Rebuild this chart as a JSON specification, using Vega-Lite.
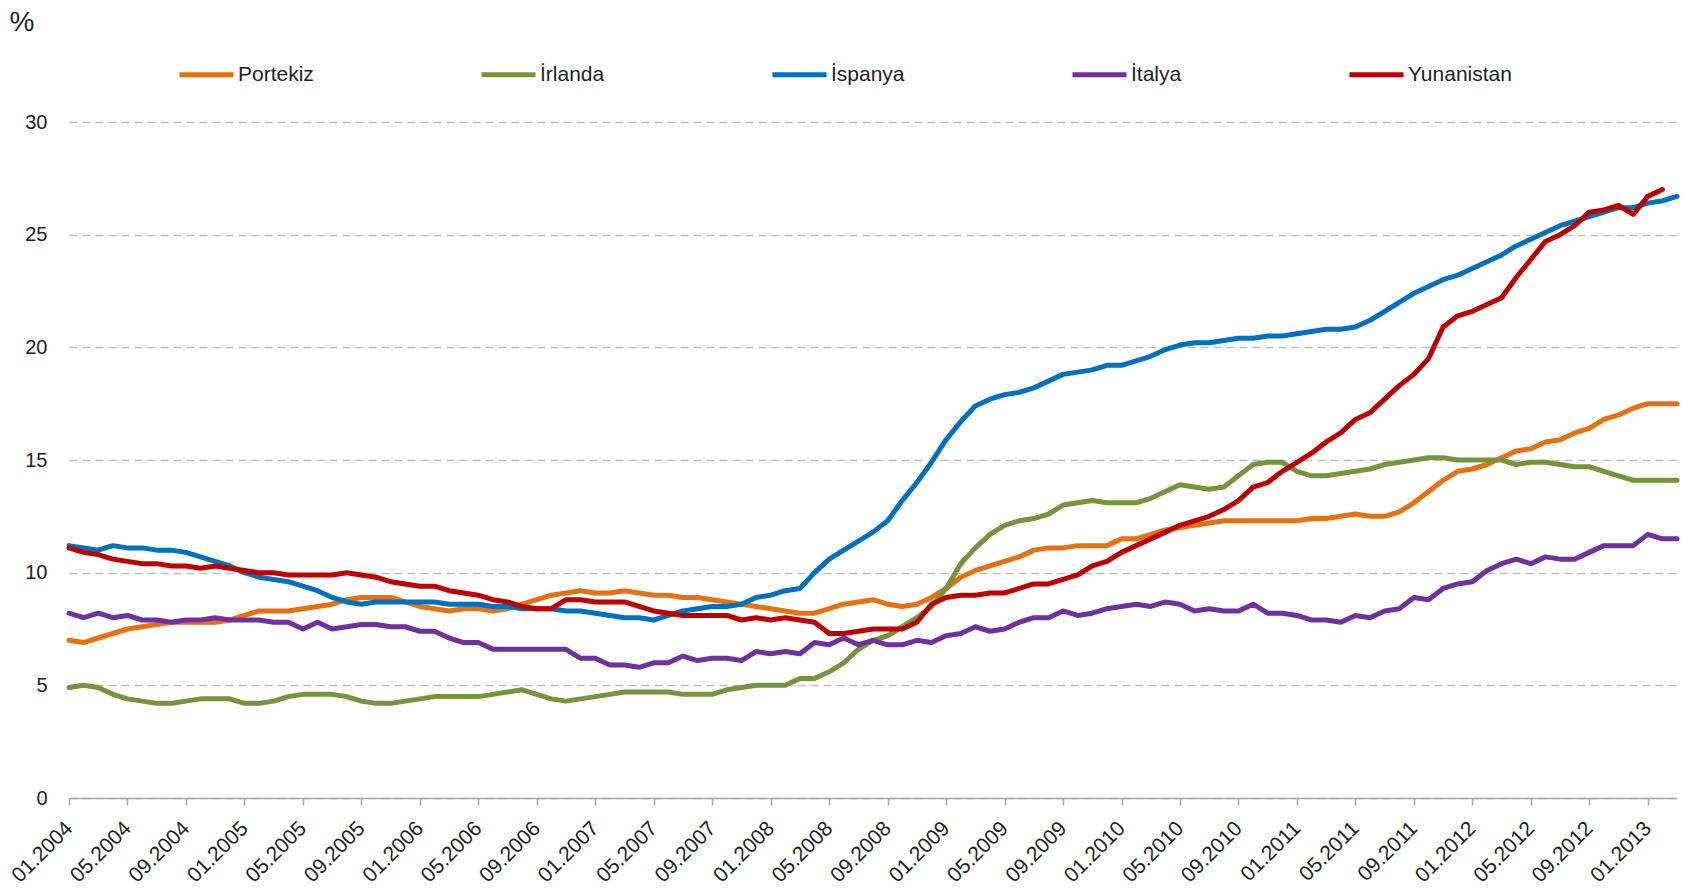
{
"$schema": "https://vega.github.io/schema/vega-lite/v6.json",
"width": 1608, "height": 676,
"autosize": {"type": "none"},
"padding": {"left": 69, "top": 122, "right": 13, "bottom": 92},
"background": "white",
"config": {"view": {"stroke": null}, "font": "Liberation Sans"},
"data": {"values": [
{"m":"01.2004","Portekiz":7.0,"İrlanda":4.9,"İspanya":11.2,"İtalya":8.2,"Yunanistan":11.1},
{"m":"02.2004","Portekiz":6.9,"İrlanda":5.0,"İspanya":11.1,"İtalya":8.0,"Yunanistan":10.9},
{"m":"03.2004","Portekiz":7.1,"İrlanda":4.9,"İspanya":11.0,"İtalya":8.2,"Yunanistan":10.8},
{"m":"04.2004","Portekiz":7.3,"İrlanda":4.6,"İspanya":11.2,"İtalya":8.0,"Yunanistan":10.6},
{"m":"05.2004","Portekiz":7.5,"İrlanda":4.4,"İspanya":11.1,"İtalya":8.1,"Yunanistan":10.5},
{"m":"06.2004","Portekiz":7.6,"İrlanda":4.3,"İspanya":11.1,"İtalya":7.9,"Yunanistan":10.4},
{"m":"07.2004","Portekiz":7.7,"İrlanda":4.2,"İspanya":11.0,"İtalya":7.9,"Yunanistan":10.4},
{"m":"08.2004","Portekiz":7.8,"İrlanda":4.2,"İspanya":11.0,"İtalya":7.8,"Yunanistan":10.3},
{"m":"09.2004","Portekiz":7.8,"İrlanda":4.3,"İspanya":10.9,"İtalya":7.9,"Yunanistan":10.3},
{"m":"10.2004","Portekiz":7.8,"İrlanda":4.4,"İspanya":10.7,"İtalya":7.9,"Yunanistan":10.2},
{"m":"11.2004","Portekiz":7.8,"İrlanda":4.4,"İspanya":10.5,"İtalya":8.0,"Yunanistan":10.3},
{"m":"12.2004","Portekiz":7.9,"İrlanda":4.4,"İspanya":10.3,"İtalya":7.9,"Yunanistan":10.2},
{"m":"01.2005","Portekiz":8.1,"İrlanda":4.2,"İspanya":10.0,"İtalya":7.9,"Yunanistan":10.1},
{"m":"02.2005","Portekiz":8.3,"İrlanda":4.2,"İspanya":9.8,"İtalya":7.9,"Yunanistan":10.0},
{"m":"03.2005","Portekiz":8.3,"İrlanda":4.3,"İspanya":9.7,"İtalya":7.8,"Yunanistan":10.0},
{"m":"04.2005","Portekiz":8.3,"İrlanda":4.5,"İspanya":9.6,"İtalya":7.8,"Yunanistan":9.9},
{"m":"05.2005","Portekiz":8.4,"İrlanda":4.6,"İspanya":9.4,"İtalya":7.5,"Yunanistan":9.9},
{"m":"06.2005","Portekiz":8.5,"İrlanda":4.6,"İspanya":9.2,"İtalya":7.8,"Yunanistan":9.9},
{"m":"07.2005","Portekiz":8.6,"İrlanda":4.6,"İspanya":8.9,"İtalya":7.5,"Yunanistan":9.9},
{"m":"08.2005","Portekiz":8.8,"İrlanda":4.5,"İspanya":8.7,"İtalya":7.6,"Yunanistan":10.0},
{"m":"09.2005","Portekiz":8.9,"İrlanda":4.3,"İspanya":8.6,"İtalya":7.7,"Yunanistan":9.9},
{"m":"10.2005","Portekiz":8.9,"İrlanda":4.2,"İspanya":8.7,"İtalya":7.7,"Yunanistan":9.8},
{"m":"11.2005","Portekiz":8.9,"İrlanda":4.2,"İspanya":8.7,"İtalya":7.6,"Yunanistan":9.6},
{"m":"12.2005","Portekiz":8.7,"İrlanda":4.3,"İspanya":8.7,"İtalya":7.6,"Yunanistan":9.5},
{"m":"01.2006","Portekiz":8.5,"İrlanda":4.4,"İspanya":8.7,"İtalya":7.4,"Yunanistan":9.4},
{"m":"02.2006","Portekiz":8.4,"İrlanda":4.5,"İspanya":8.7,"İtalya":7.4,"Yunanistan":9.4},
{"m":"03.2006","Portekiz":8.3,"İrlanda":4.5,"İspanya":8.6,"İtalya":7.1,"Yunanistan":9.2},
{"m":"04.2006","Portekiz":8.4,"İrlanda":4.5,"İspanya":8.6,"İtalya":6.9,"Yunanistan":9.1},
{"m":"05.2006","Portekiz":8.4,"İrlanda":4.5,"İspanya":8.6,"İtalya":6.9,"Yunanistan":9.0},
{"m":"06.2006","Portekiz":8.3,"İrlanda":4.6,"İspanya":8.5,"İtalya":6.6,"Yunanistan":8.8},
{"m":"07.2006","Portekiz":8.4,"İrlanda":4.7,"İspanya":8.5,"İtalya":6.6,"Yunanistan":8.7},
{"m":"08.2006","Portekiz":8.6,"İrlanda":4.8,"İspanya":8.4,"İtalya":6.6,"Yunanistan":8.5},
{"m":"09.2006","Portekiz":8.8,"İrlanda":4.6,"İspanya":8.4,"İtalya":6.6,"Yunanistan":8.4},
{"m":"10.2006","Portekiz":9.0,"İrlanda":4.4,"İspanya":8.4,"İtalya":6.6,"Yunanistan":8.4},
{"m":"11.2006","Portekiz":9.1,"İrlanda":4.3,"İspanya":8.3,"İtalya":6.6,"Yunanistan":8.8},
{"m":"12.2006","Portekiz":9.2,"İrlanda":4.4,"İspanya":8.3,"İtalya":6.2,"Yunanistan":8.8},
{"m":"01.2007","Portekiz":9.1,"İrlanda":4.5,"İspanya":8.2,"İtalya":6.2,"Yunanistan":8.7},
{"m":"02.2007","Portekiz":9.1,"İrlanda":4.6,"İspanya":8.1,"İtalya":5.9,"Yunanistan":8.7},
{"m":"03.2007","Portekiz":9.2,"İrlanda":4.7,"İspanya":8.0,"İtalya":5.9,"Yunanistan":8.7},
{"m":"04.2007","Portekiz":9.1,"İrlanda":4.7,"İspanya":8.0,"İtalya":5.8,"Yunanistan":8.5},
{"m":"05.2007","Portekiz":9.0,"İrlanda":4.7,"İspanya":7.9,"İtalya":6.0,"Yunanistan":8.3},
{"m":"06.2007","Portekiz":9.0,"İrlanda":4.7,"İspanya":8.1,"İtalya":6.0,"Yunanistan":8.2},
{"m":"07.2007","Portekiz":8.9,"İrlanda":4.6,"İspanya":8.3,"İtalya":6.3,"Yunanistan":8.1},
{"m":"08.2007","Portekiz":8.9,"İrlanda":4.6,"İspanya":8.4,"İtalya":6.1,"Yunanistan":8.1},
{"m":"09.2007","Portekiz":8.8,"İrlanda":4.6,"İspanya":8.5,"İtalya":6.2,"Yunanistan":8.1},
{"m":"10.2007","Portekiz":8.7,"İrlanda":4.8,"İspanya":8.5,"İtalya":6.2,"Yunanistan":8.1},
{"m":"11.2007","Portekiz":8.6,"İrlanda":4.9,"İspanya":8.6,"İtalya":6.1,"Yunanistan":7.9},
{"m":"12.2007","Portekiz":8.5,"İrlanda":5.0,"İspanya":8.9,"İtalya":6.5,"Yunanistan":8.0},
{"m":"01.2008","Portekiz":8.4,"İrlanda":5.0,"İspanya":9.0,"İtalya":6.4,"Yunanistan":7.9},
{"m":"02.2008","Portekiz":8.3,"İrlanda":5.0,"İspanya":9.2,"İtalya":6.5,"Yunanistan":8.0},
{"m":"03.2008","Portekiz":8.2,"İrlanda":5.3,"İspanya":9.3,"İtalya":6.4,"Yunanistan":7.9},
{"m":"04.2008","Portekiz":8.2,"İrlanda":5.3,"İspanya":10.0,"İtalya":6.9,"Yunanistan":7.8},
{"m":"05.2008","Portekiz":8.4,"İrlanda":5.6,"İspanya":10.6,"İtalya":6.8,"Yunanistan":7.3},
{"m":"06.2008","Portekiz":8.6,"İrlanda":6.0,"İspanya":11.0,"İtalya":7.1,"Yunanistan":7.3},
{"m":"07.2008","Portekiz":8.7,"İrlanda":6.6,"İspanya":11.4,"İtalya":6.8,"Yunanistan":7.4},
{"m":"08.2008","Portekiz":8.8,"İrlanda":7.0,"İspanya":11.8,"İtalya":7.0,"Yunanistan":7.5},
{"m":"09.2008","Portekiz":8.6,"İrlanda":7.2,"İspanya":12.3,"İtalya":6.8,"Yunanistan":7.5},
{"m":"10.2008","Portekiz":8.5,"İrlanda":7.6,"İspanya":13.2,"İtalya":6.8,"Yunanistan":7.5},
{"m":"11.2008","Portekiz":8.6,"İrlanda":8.0,"İspanya":14.0,"İtalya":7.0,"Yunanistan":7.8},
{"m":"12.2008","Portekiz":8.9,"İrlanda":8.5,"İspanya":14.9,"İtalya":6.9,"Yunanistan":8.6},
{"m":"01.2009","Portekiz":9.3,"İrlanda":9.3,"İspanya":15.9,"İtalya":7.2,"Yunanistan":8.9},
{"m":"02.2009","Portekiz":9.8,"İrlanda":10.4,"İspanya":16.7,"İtalya":7.3,"Yunanistan":9.0},
{"m":"03.2009","Portekiz":10.1,"İrlanda":11.1,"İspanya":17.4,"İtalya":7.6,"Yunanistan":9.0},
{"m":"04.2009","Portekiz":10.3,"İrlanda":11.7,"İspanya":17.7,"İtalya":7.4,"Yunanistan":9.1},
{"m":"05.2009","Portekiz":10.5,"İrlanda":12.1,"İspanya":17.9,"İtalya":7.5,"Yunanistan":9.1},
{"m":"06.2009","Portekiz":10.7,"İrlanda":12.3,"İspanya":18.0,"İtalya":7.8,"Yunanistan":9.3},
{"m":"07.2009","Portekiz":11.0,"İrlanda":12.4,"İspanya":18.2,"İtalya":8.0,"Yunanistan":9.5},
{"m":"08.2009","Portekiz":11.1,"İrlanda":12.6,"İspanya":18.5,"İtalya":8.0,"Yunanistan":9.5},
{"m":"09.2009","Portekiz":11.1,"İrlanda":13.0,"İspanya":18.8,"İtalya":8.3,"Yunanistan":9.7},
{"m":"10.2009","Portekiz":11.2,"İrlanda":13.1,"İspanya":18.9,"İtalya":8.1,"Yunanistan":9.9},
{"m":"11.2009","Portekiz":11.2,"İrlanda":13.2,"İspanya":19.0,"İtalya":8.2,"Yunanistan":10.3},
{"m":"12.2009","Portekiz":11.2,"İrlanda":13.1,"İspanya":19.2,"İtalya":8.4,"Yunanistan":10.5},
{"m":"01.2010","Portekiz":11.5,"İrlanda":13.1,"İspanya":19.2,"İtalya":8.5,"Yunanistan":10.9},
{"m":"02.2010","Portekiz":11.5,"İrlanda":13.1,"İspanya":19.4,"İtalya":8.6,"Yunanistan":11.2},
{"m":"03.2010","Portekiz":11.7,"İrlanda":13.3,"İspanya":19.6,"İtalya":8.5,"Yunanistan":11.5},
{"m":"04.2010","Portekiz":11.9,"İrlanda":13.6,"İspanya":19.9,"İtalya":8.7,"Yunanistan":11.8},
{"m":"05.2010","Portekiz":12.0,"İrlanda":13.9,"İspanya":20.1,"İtalya":8.6,"Yunanistan":12.1},
{"m":"06.2010","Portekiz":12.1,"İrlanda":13.8,"İspanya":20.2,"İtalya":8.3,"Yunanistan":12.3},
{"m":"07.2010","Portekiz":12.2,"İrlanda":13.7,"İspanya":20.2,"İtalya":8.4,"Yunanistan":12.5},
{"m":"08.2010","Portekiz":12.3,"İrlanda":13.8,"İspanya":20.3,"İtalya":8.3,"Yunanistan":12.8},
{"m":"09.2010","Portekiz":12.3,"İrlanda":14.3,"İspanya":20.4,"İtalya":8.3,"Yunanistan":13.2},
{"m":"10.2010","Portekiz":12.3,"İrlanda":14.8,"İspanya":20.4,"İtalya":8.6,"Yunanistan":13.8},
{"m":"11.2010","Portekiz":12.3,"İrlanda":14.9,"İspanya":20.5,"İtalya":8.2,"Yunanistan":14.0},
{"m":"12.2010","Portekiz":12.3,"İrlanda":14.9,"İspanya":20.5,"İtalya":8.2,"Yunanistan":14.5},
{"m":"01.2011","Portekiz":12.3,"İrlanda":14.5,"İspanya":20.6,"İtalya":8.1,"Yunanistan":14.9},
{"m":"02.2011","Portekiz":12.4,"İrlanda":14.3,"İspanya":20.7,"İtalya":7.9,"Yunanistan":15.3},
{"m":"03.2011","Portekiz":12.4,"İrlanda":14.3,"İspanya":20.8,"İtalya":7.9,"Yunanistan":15.8},
{"m":"04.2011","Portekiz":12.5,"İrlanda":14.4,"İspanya":20.8,"İtalya":7.8,"Yunanistan":16.2},
{"m":"05.2011","Portekiz":12.6,"İrlanda":14.5,"İspanya":20.9,"İtalya":8.1,"Yunanistan":16.8},
{"m":"06.2011","Portekiz":12.5,"İrlanda":14.6,"İspanya":21.2,"İtalya":8.0,"Yunanistan":17.1},
{"m":"07.2011","Portekiz":12.5,"İrlanda":14.8,"İspanya":21.6,"İtalya":8.3,"Yunanistan":17.7},
{"m":"08.2011","Portekiz":12.7,"İrlanda":14.9,"İspanya":22.0,"İtalya":8.4,"Yunanistan":18.3},
{"m":"09.2011","Portekiz":13.1,"İrlanda":15.0,"İspanya":22.4,"İtalya":8.9,"Yunanistan":18.8},
{"m":"10.2011","Portekiz":13.6,"İrlanda":15.1,"İspanya":22.7,"İtalya":8.8,"Yunanistan":19.5},
{"m":"11.2011","Portekiz":14.1,"İrlanda":15.1,"İspanya":23.0,"İtalya":9.3,"Yunanistan":20.9},
{"m":"12.2011","Portekiz":14.5,"İrlanda":15.0,"İspanya":23.2,"İtalya":9.5,"Yunanistan":21.4},
{"m":"01.2012","Portekiz":14.6,"İrlanda":15.0,"İspanya":23.5,"İtalya":9.6,"Yunanistan":21.6},
{"m":"02.2012","Portekiz":14.8,"İrlanda":15.0,"İspanya":23.8,"İtalya":10.1,"Yunanistan":21.9},
{"m":"03.2012","Portekiz":15.1,"İrlanda":15.0,"İspanya":24.1,"İtalya":10.4,"Yunanistan":22.2},
{"m":"04.2012","Portekiz":15.4,"İrlanda":14.8,"İspanya":24.5,"İtalya":10.6,"Yunanistan":23.1},
{"m":"05.2012","Portekiz":15.5,"İrlanda":14.9,"İspanya":24.8,"İtalya":10.4,"Yunanistan":23.9},
{"m":"06.2012","Portekiz":15.8,"İrlanda":14.9,"İspanya":25.1,"İtalya":10.7,"Yunanistan":24.7},
{"m":"07.2012","Portekiz":15.9,"İrlanda":14.8,"İspanya":25.4,"İtalya":10.6,"Yunanistan":25.0},
{"m":"08.2012","Portekiz":16.2,"İrlanda":14.7,"İspanya":25.6,"İtalya":10.6,"Yunanistan":25.4},
{"m":"09.2012","Portekiz":16.4,"İrlanda":14.7,"İspanya":25.8,"İtalya":10.9,"Yunanistan":26.0},
{"m":"10.2012","Portekiz":16.8,"İrlanda":14.5,"İspanya":26.0,"İtalya":11.2,"Yunanistan":26.1},
{"m":"11.2012","Portekiz":17.0,"İrlanda":14.3,"İspanya":26.2,"İtalya":11.2,"Yunanistan":26.3},
{"m":"12.2012","Portekiz":17.3,"İrlanda":14.1,"İspanya":26.2,"İtalya":11.2,"Yunanistan":25.9},
{"m":"01.2013","Portekiz":17.5,"İrlanda":14.1,"İspanya":26.4,"İtalya":11.7,"Yunanistan":26.7},
{"m":"02.2013","Portekiz":17.5,"İrlanda":14.1,"İspanya":26.5,"İtalya":11.5,"Yunanistan":27.0},
{"m":"03.2013","Portekiz":17.5,"İrlanda":14.1,"İspanya":26.7,"İtalya":11.5,"Yunanistan":null}
]},
"transform": [{"fold": ["Portekiz","İrlanda","İspanya","İtalya","Yunanistan"], "as": ["country","value"]}],
"mark": {"type": "line", "strokeWidth": 5, "strokeJoin": "round", "strokeCap": "round"},
"encoding": {
  "x": {"field": "m", "type": "ordinal", "sort": null,
    "scale": {"type": "point", "padding": 0},
    "axis": {"title": null, "grid": false,
      "values": ["01.2004","05.2004","09.2004","01.2005","05.2005","09.2005","01.2006","05.2006","09.2006","01.2007","05.2007","09.2007","01.2008","05.2008","09.2008","01.2009","05.2009","09.2009","01.2010","05.2010","09.2010","01.2011","05.2011","09.2011","01.2012","05.2012","09.2012","01.2013"],
      "labelAngle": -45, "labelAlign": "right", "labelBaseline": "middle",
      "labelFontSize": 21, "labelColor": "#222222", "labelPadding": 20,
      "domainColor": "#A6A6A6", "domainWidth": 1.5,
      "tickColor": "#A6A6A6", "tickWidth": 1.5, "tickSize": 7}},
  "y": {"field": "value", "type": "quantitative",
    "scale": {"domain": [0, 30], "nice": false},
    "axis": {"values": [0,5,10,15,20,25,30], "domain": false, "ticks": false,
      "labelFontSize": 20, "labelColor": "#222222", "labelPadding": 22,
      "grid": true, "gridDash": [8,5], "gridColor": "#BFBFBF", "gridWidth": 1.5,
      "title": "%", "titleAngle": 0, "titleFontSize": 28, "titleFontWeight": "normal",
      "titleColor": "#222222", "titleX": -60, "titleY": -92, "titleAlign": "left", "titleBaseline": "alphabetic"}},
  "color": {"field": "country", "type": "nominal",
    "scale": {"domain": ["Portekiz","İrlanda","İspanya","İtalya","Yunanistan"],
              "range": ["#E8700E","#77933C","#0070C0","#7030A0","#C00000"]},
    "legend": {"title": null, "orient": "none", "legendX": 108, "legendY": -77,
      "direction": "horizontal", "columns": 5, "gridAlign": "each", "columnPadding": 157,
      "symbolType": "stroke", "symbolSize": 2916, "symbolStrokeWidth": 5,
      "labelFontSize": 21, "labelColor": "#222222", "labelOffset": 2}}
}
}
